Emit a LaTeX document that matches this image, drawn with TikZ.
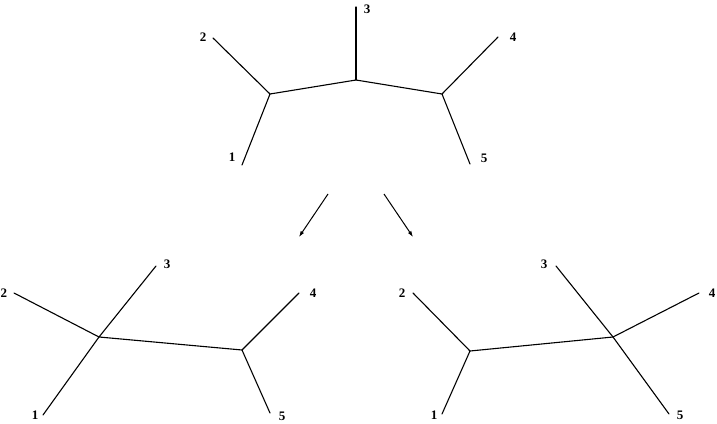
\documentclass[tikz,border=0pt]{standalone}
\usepackage{fontspec}
\setmainfont{Liberation Serif}
\usetikzlibrary{arrows.meta}
\tikzset{
	edge/.style={line width=1.1pt, line cap=round, line join=round},
	leaf/.style={font=\fontsize{13}{15}\selectfont\bfseries, inner sep=0pt},
	move/.style={-{Latex[length=6pt,width=4pt]}, line width=1pt}
}
\begin{document}
\begin{tikzpicture}[x=1pt, y=-1pt]
	\useasboundingbox (0,0) rectangle (717,423);
	
	% ---- 1. Верхнее дерево ----
	\coordinate (tA) at (270,94);
	\coordinate (tB) at (356,80);
	\coordinate (tC) at (442,94);
	\coordinate (t1) at (242,165);
	\coordinate (t2) at (213,38);
	\coordinate (t3) at (356,7);
	\coordinate (t4) at (498,37);
	\coordinate (t5) at (470,164);
	\node[leaf] (lt1) at (232,157) {1};
	\node[leaf] (lt2) at (203,37) {2};
	\node[leaf] (lt3) at (367,9) {3};
	\node[leaf] (lt4) at (513,37) {4};
	\node[leaf] (lt5) at (484,158) {5};
	\draw[edge] (t2) -- (tA) -- (t1);
	\draw[edge] (tA) -- (tB) -- (tC);
	\draw[edge] (tB) -- (t3);
	\draw[edge] (t4) -- (tC) -- (t5);
	
	% ---- 2. Стрелки ----
	\coordinate (aL1) at (328,194);
	\coordinate (aL2) at (299,237);
	\coordinate (aR1) at (384,194);
	\coordinate (aR2) at (413,237);
	\draw[move] (aL1) -- (aL2);
	\draw[move] (aR1) -- (aR2);
	
	% ---- 3. Нижнее левое дерево ----
	\coordinate (lA) at (99,337);
	\coordinate (lB) at (242,350);
	\coordinate (l1) at (43,415);
	\coordinate (l2) at (14,293);
	\coordinate (l3) at (156,266);
	\coordinate (l4) at (299,293);
	\coordinate (l5) at (270,413);
	\node[leaf] (ll1) at (35,415) {1};
	\node[leaf] (ll2) at (4,293) {2};
	\node[leaf] (ll3) at (167,264) {3};
	\node[leaf] (ll4) at (313,293) {4};
	\node[leaf] (ll5) at (282,416) {5};
	\draw[edge] (l2) -- (lA) -- (l1);
	\draw[edge] (l3) -- (lA) -- (lB);
	\draw[edge] (l4) -- (lB) -- (l5);
	
	% ---- 4. Нижнее правое дерево ----
	\coordinate (rA) at (470,351);
	\coordinate (rB) at (613,337);
	\coordinate (r1) at (442,414);
	\coordinate (r2) at (413,293);
	\coordinate (r3) at (556,266);
	\coordinate (r4) at (699,293);
	\coordinate (r5) at (669,414);
	\node[leaf] (lr1) at (434,415) {1};
	\node[leaf] (lr2) at (402,293) {2};
	\node[leaf] (lr3) at (544,264) {3};
	\node[leaf] (lr4) at (712,293) {4};
	\node[leaf] (lr5) at (680,415) {5};
	\draw[edge] (r2) -- (rA) -- (r1);
	\draw[edge] (rA) -- (rB);
	\draw[edge] (r3) -- (rB) -- (r5);
	\draw[edge] (rB) -- (r4);
\end{tikzpicture}
\end{document}
